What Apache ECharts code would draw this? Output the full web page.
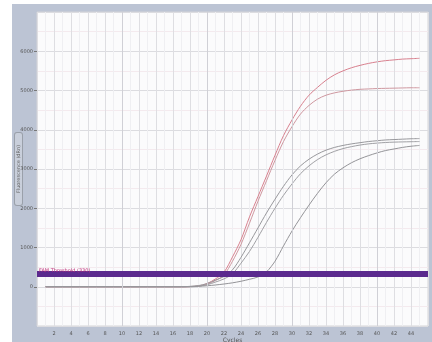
<!DOCTYPE html>
<html>
<head>
<meta charset="utf-8">
<script src="https://cdn.jsdelivr.net/npm/echarts@6/dist/echarts.min.js"></script>
<style>
  html, body { margin: 0; padding: 0; background: #ffffff; }
  #wrap { position: absolute; left: 12px; top: 4px; width: 420px; height: 338px; background: #bcc4d4; }
  #container { width: 420px; height: 338px; }
</style>
</head>
<body>
<div id="wrap"><div id="container"></div></div>
<script>
// cycle numbers and fluorescence readings
const cycles = [1,2,3,4,5,6,7,8,9,10,11,12,13,14,15,16,17,18,19,20,21,22,23,24,25,26,27,28,29,30,31,32,33,34,35,36,37,38,39,40,41,42,43,44,45];

const redA = [0,0,0,0,0,0,0,0,0,0,0,0,0,0,0,0,0,5,20,80,200,370,760,1200,1780,2300,2820,3350,3850,4250,4600,4880,5080,5260,5400,5500,5580,5640,5690,5730,5760,5780,5800,5810,5820];
const redB = [0,0,0,0,0,0,0,0,0,0,0,0,0,0,0,0,0,3,15,60,160,300,650,1080,1620,2180,2700,3220,3700,4080,4400,4620,4780,4880,4940,4980,5010,5030,5040,5050,5055,5060,5065,5070,5070];
const gray1 = [0,0,0,0,0,0,0,0,0,0,0,0,0,0,0,0,0,10,30,80,170,260,430,750,1120,1500,1880,2230,2560,2850,3080,3250,3380,3480,3550,3600,3640,3670,3700,3720,3740,3750,3760,3770,3775];
const gray2 = [0,0,0,0,0,0,0,0,0,0,0,0,0,0,0,0,0,5,20,50,120,200,330,600,900,1260,1640,2000,2330,2620,2880,3080,3240,3360,3450,3520,3570,3610,3640,3660,3675,3685,3690,3695,3700];
const gray3 = [0,0,0,0,0,0,0,0,0,0,0,0,0,0,0,0,0,0,10,25,45,70,100,140,190,250,380,650,1040,1420,1760,2080,2380,2650,2870,3030,3160,3260,3340,3410,3470,3510,3550,3580,3600];

const threshold = 330;
const majorCycles = [10, 20, 30, 40];

function pairs(vals){
  return cycles.map(function(c, i){ return [c, vals[i]]; });
}

function curve(name, vals, color){
  return {
    name: name,
    type: 'line',
    data: pairs(vals),
    symbol: 'none',
    smooth: 0.3,
    lineStyle: { color: color, width: 1 },
    z: 3
  };
}

// darker grid at every 10 cycles, threshold bar drawn last so it sits on top
let lines = majorCycles.map(function(c){
  return { xAxis: c, lineStyle: { color: '#d0d0d6', width: 1, type: 'solid' }, label: { show: false } };
});
lines.push({
  yAxis: threshold,
  lineStyle: { color: '#5b2a8e', width: 6, type: 'solid' },
  label: {
    show: true,
    position: 'insideStartTop',
    formatter: 'FAM Threshold (330)',
    fontSize: 5,
    color: '#c0307a',
    distance: [2, 1],
    fontFamily: 'DejaVu Sans'
  }
});

let myChart = echarts.init(document.getElementById('container'));
myChart.setOption({
  animation: false,
  grid: {
    left: 25, right: 4, top: 8, bottom: 16,
    outerBoundsMode: 'none',
    containLabel: false,
    show: true,
    backgroundColor: '#fbfbfc',
    borderColor: '#d4d4d8',
    borderWidth: 1
  },
  xAxis: {
    type: 'value',
    min: 0, max: 46, interval: 2,
    name: 'Cycles',
    nameLocation: 'middle',
    nameGap: 11,
    nameMoveOverlap: false,
    nameTextStyle: { fontSize: 6, color: '#555', fontFamily: 'DejaVu Sans' },
    axisLine: { show: false },
    axisTick: { show: false },
    axisLabel: { fontSize: 5, color: '#555', margin: 5, showMinLabel: false, showMaxLabel: false, fontFamily: 'DejaVu Sans' },
    splitLine: { show: true, lineStyle: { color: '#dedee2', width: 1 } },
    minorTick: { show: false, splitNumber: 2 },
    minorSplitLine: { show: true, lineStyle: { color: '#efeff2', width: 1 } }
  },
  yAxis: {
    type: 'value',
    min: -1000, max: 7000, interval: 1000,
    name: 'Fluorescence (dRn)',
    nameLocation: 'middle',
    nameGap: 15,
    nameMoveOverlap: false,
    nameTextStyle: {
      fontSize: 5, color: '#666', fontFamily: 'DejaVu Sans',
      borderColor: '#9aa0aa', borderWidth: 1, borderRadius: 2,
      backgroundColor: '#c9cfdb', padding: [1, 12]
    },
    axisLine: { show: false },
    axisTick: { show: true, length: 3, lineStyle: { color: '#777' } },
    axisLabel: {
      fontSize: 5, color: '#555', margin: 4, showMinLabel: false, showMaxLabel: false, fontFamily: 'DejaVu Sans',
      formatter: function(v){ return String(v); }
    },
    splitLine: { show: true, lineStyle: { color: '#dcdce0', width: 1 } },
    minorSplitLine: { show: true, lineStyle: { color: '#f4eaee', width: 1 } },
    minorTick: { show: false, splitNumber: 2 }
  },
  series: [
    curve('A1', redA, '#d8808e'),
    curve('A2', redB, '#cf98a0'),
    curve('B1', gray1, '#98989c'),
    curve('B2', gray2, '#a0a0a4'),
    curve('B3', gray3, '#949498'),
    {
      name: 'marks',
      type: 'line',
      data: [],
      z: 5,
      markLine: {
        silent: true,
        symbol: 'none',
        data: lines
      }
    }
  ]
});
</script>
</body>
</html>
